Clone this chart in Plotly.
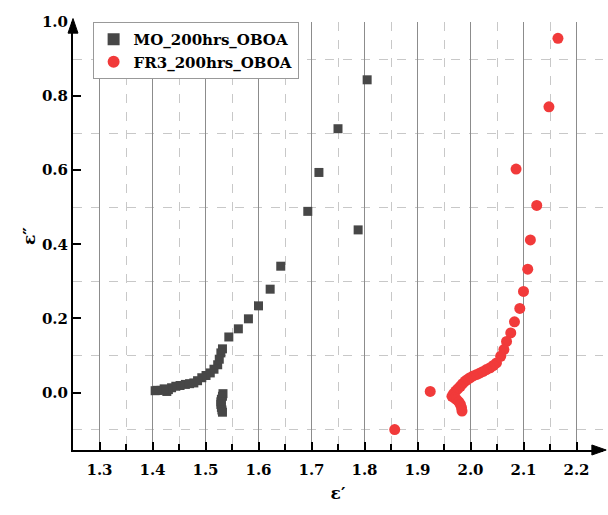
import plotly.graph_objects as go

# ---- data ----
mo_x = [1.805, 1.750, 1.714, 1.693, 1.788, 1.642, 1.622, 1.600, 1.581, 1.562,
        1.544, 1.532, 1.529, 1.526, 1.523, 1.516, 1.509, 1.501, 1.493, 1.485,
        1.478, 1.470, 1.462, 1.452, 1.444, 1.436, 1.430, 1.427, 1.422, 1.416,
        1.409, 1.405, 1.533, 1.532, 1.530, 1.529, 1.529, 1.530, 1.531, 1.532]
mo_y = [0.844, 0.712, 0.594, 0.489, 0.439, 0.341, 0.279, 0.234, 0.199, 0.172,
        0.150, 0.118, 0.107, 0.090, 0.075, 0.063, 0.053, 0.046, 0.040, 0.032,
        0.026, 0.024, 0.022, 0.019, 0.017, 0.013, 0.008, 0.003, 0.010, 0.006,
        0.006, 0.005, -0.003, -0.010, -0.018, -0.025, -0.032, -0.040, -0.047, -0.053]

fr3_x = [2.165, 2.148, 2.086, 2.125, 2.113, 2.108, 2.100, 2.093, 2.083, 2.076,
         2.068, 2.063, 2.057, 2.049, 2.043, 2.037, 2.030, 2.024, 2.018, 2.012,
         2.005, 1.999, 1.994, 1.990, 1.985, 1.981, 1.976, 1.972, 1.968, 1.965,
         1.970, 1.974, 1.978, 1.981, 1.983, 1.984, 1.924, 1.857]
fr3_y = [0.956, 0.771, 0.603, 0.505, 0.412, 0.333, 0.273, 0.227, 0.191, 0.161,
         0.138, 0.116, 0.098, 0.080, 0.073, 0.067, 0.062, 0.057, 0.053, 0.049,
         0.045, 0.040, 0.035, 0.031, 0.024, 0.017, 0.010, 0.004, -0.003, -0.010,
         -0.015, -0.019, -0.025, -0.032, -0.041, -0.050, 0.003, -0.100]

series_names = ["MO_200hrs_OBOA", "FR3_200hrs_OBOA"]
x_ticks = [1.3, 1.4, 1.5, 1.6, 1.7, 1.8, 1.9, 2.0, 2.1, 2.2]
y_ticks = [0.0, 0.2, 0.4, 0.6, 0.8, 1.0]

FONT = "DejaVu Serif"

fig = go.Figure()
fig.add_trace(go.Scatter(
    x=mo_x, y=mo_y, mode="markers", name="<b>" + series_names[0] + "</b>",
    marker=dict(symbol="square", size=9, color="#474747")))
fig.add_trace(go.Scatter(
    x=fr3_x, y=fr3_y, mode="markers", name="<b>" + series_names[1] + "</b>",
    marker=dict(symbol="circle", size=11, color="#F13A3A")))

fig.update_layout(
    width=608, height=515,
    margin=dict(l=73, r=5, t=22, b=65),
    paper_bgcolor="white", plot_bgcolor="white",
    font=dict(family=FONT, color="black"),
    showlegend=True,
    legend=dict(x=0.037, y=1.0, xanchor="left", yanchor="top",
                bgcolor="white", bordercolor="#999999", borderwidth=1,
                font=dict(family=FONT, size=15, color="black"),
                itemsizing="constant", tracegroupgap=0),
    xaxis=dict(
        range=[1.25, 2.25], tickvals=x_ticks,
        ticktext=[f"{v:.1f}" for v in x_ticks],
        tickfont=dict(family=FONT, size=15, color="black", weight="bold"),
        ticks="inside", ticklen=8, tickwidth=1.5, tickcolor="black",
        ticklabelstandoff=5,
        showline=True, linecolor="black", linewidth=2,
        showgrid=True, gridcolor="#8c8c8c", gridwidth=1,
        zeroline=False,
        minor=dict(tick0=1.25, dtick=0.1, ticks="inside", ticklen=6,
                   tickcolor="black", tickwidth=1.5,
                   showgrid=True, gridcolor="#c8c8c8", griddash="dash", gridwidth=1),
        title=dict(text="<b>ε′</b>", font=dict(family=FONT, size=17), standoff=9),
    ),
    yaxis=dict(
        range=[-0.155, 1.0], tickvals=y_ticks,
        ticktext=[f"{v:.1f}" for v in y_ticks],
        tickfont=dict(family=FONT, size=15, color="black", weight="bold"),
        ticks="inside", ticklen=8, tickwidth=1.5, tickcolor="black",
        showline=True, linecolor="black", linewidth=2,
        showgrid=False, zeroline=False,
        minor=dict(tick0=0.1, dtick=0.2, ticks="",
                   showgrid=True, gridcolor="#c8c8c8", griddash="dash", gridwidth=1),
        title=dict(text="<b>ε″</b>", font=dict(family=FONT, size=17), standoff=2),
    ),
)

# axis arrowheads
hx = 0.0117
fig.add_shape(type="path", xref="paper", yref="paper",
              path=f"M 0.979,{-hx} L 1.006,0 L 0.979,{hx} Z",
              fillcolor="black", line=dict(color="black", width=1))
hy = 0.0094
fig.add_shape(type="path", xref="paper", yref="paper",
              path=f"M {-hy},0.974 L 0,1.008 L {hy},0.974 Z",
              fillcolor="black", line=dict(color="black", width=1))

fig.write_html("out.html")
